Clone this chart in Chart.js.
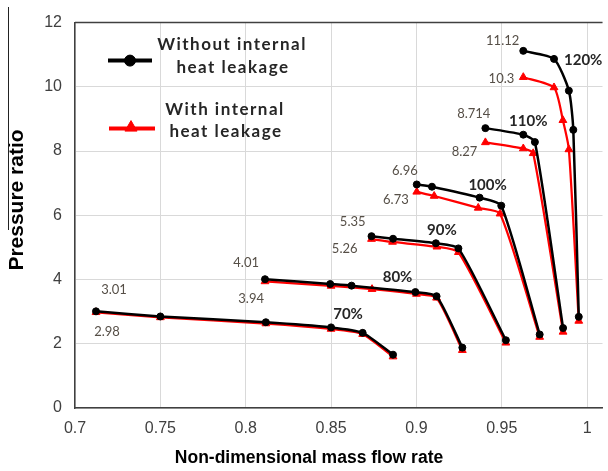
<!DOCTYPE html>
<html>
<head>
<meta charset="utf-8">
<script src="https://cdn.jsdelivr.net/npm/chart.js@4.4.1/dist/chart.umd.min.js"></script>
<style>
  html, body { margin: 0; padding: 0; background: #fff; }
  canvas { display: block; }
</style>
</head>
<body>
<canvas id="chart" width="608" height="471"></canvas>
<script>
// speed lines, one curve each
const speeds = ['70%', '80%', '90%', '100%', '110%', '120%'];

// without internal heat leakage (black circles)
const flowWithout = [
    [0.7123, 0.75, 0.8118, 0.85, 0.8685, 0.8863],
    [0.8113, 0.8495, 0.862, 0.8994, 0.9118, 0.9269],
    [0.8737, 0.8863, 0.9114, 0.9246, 0.9524],
    [0.9002, 0.9091, 0.937, 0.9497, 0.9722],
    [0.9404, 0.9626, 0.9694, 0.9859],
    [0.9626, 0.9806, 0.9893, 0.9919, 0.9951]
];
const prWithout = [
    [3.01, 2.85, 2.67, 2.51, 2.34, 1.66],
    [4.01, 3.86, 3.81, 3.61, 3.48, 1.88],
    [5.35, 5.27, 5.13, 4.97, 2.11],
    [6.96, 6.89, 6.55, 6.30, 2.29],
    [8.714, 8.51, 8.28, 2.49],
    [11.12, 10.87, 9.88, 8.66, 2.84]
];

// with internal heat leakage (red triangles)
const flowWith = [
    [0.7123, 0.75, 0.8118, 0.85, 0.8685, 0.8863],
    [0.8113, 0.85, 0.874, 0.9, 0.9118, 0.9269],
    [0.8737, 0.886, 0.912, 0.9246, 0.9524],
    [0.9002, 0.9104, 0.9362, 0.949, 0.9722],
    [0.9404, 0.9626, 0.9684, 0.9859],
    [0.9626, 0.9806, 0.9858, 0.9893, 0.9951]
];
const prWith = [
    [2.98, 2.82, 2.63, 2.46, 2.30, 1.60],
    [3.94, 3.80, 3.70, 3.55, 3.43, 1.80],
    [5.26, 5.17, 5.02, 4.85, 2.03],
    [6.73, 6.60, 6.23, 6.05, 2.21],
    [8.27, 8.08, 7.93, 2.37],
    [10.3, 9.98, 8.96, 8.05, 2.71]
];

const xTicks = [0.7, 0.75, 0.8, 0.85, 0.9, 0.95, 1];
const yTicks = [0, 2, 4, 6, 8, 10, 12];

// value labels at the first point of each curve: [series, curve, point, text, dx, dy, align]
const valueNotes = [
    ['without', 5, 0, '11.12', -4, -10, 'right'],
    ['with', 5, 0, '10.3', -9, 2, 'right'],
    ['without', 4, 0, '8.714', 5, -14, 'right'],
    ['with', 4, 0, '8.27', -8, 9, 'right'],
    ['without', 3, 0, '6.96', 1, -14, 'right'],
    ['with', 3, 0, '6.73', -8, 8, 'right'],
    ['without', 2, 0, '5.35', -6, -14, 'right'],
    ['with', 2, 0, '5.26', -14, 10, 'right'],
    ['without', 1, 0, '4.01', -6, -16, 'right'],
    ['with', 1, 0, '3.94', -1, 17, 'right'],
    ['without', 0, 0, '3.01', 18, -22, 'center'],
    ['with', 0, 0, '2.98', 11, 20, 'center']
];
// speed labels: [curve, point, dx, dy, align]
const speedNotes = [
    [5, 1, 10, 1, 'left'],
    [4, 1, 5, -14, 'center'],
    [3, 2, 8, -12, 'center'],
    [2, 2, 6, -13, 'center'],
    [1, 2, 46, -8, 'center'],
    [0, 3, 17, -13, 'center']
];

const BLACK = '#000000';
const RED = '#ff0000';
const series = { without: [flowWithout, prWithout], with: [flowWith, prWith] };

function points(xs, ys) {
    return xs.map((x, i) => ({ x: x, y: ys[i] }));
}

const datasets = [];
speeds.forEach((s, i) => {
    datasets.push({
        label: 'Without ' + s,
        data: points(flowWithout[i], prWithout[i]),
        showLine: true,
        borderColor: BLACK,
        backgroundColor: BLACK,
        borderWidth: 2.5,
        pointStyle: 'circle',
        pointRadius: 3.5,
        pointBorderWidth: 1,
        tension: 0.2,
        order: 0
    });
    datasets.push({
        label: 'With ' + s,
        data: points(flowWith[i], prWith[i]),
        showLine: true,
        borderColor: RED,
        backgroundColor: RED,
        borderWidth: 2.25,
        pointStyle: 'triangle',
        pointRadius: 4.5,
        pointBorderWidth: 1,
        tension: 0.2,
        order: 1
    });
});

const annotations = {
    id: 'annotations',
    afterDatasetsDraw(chart) {
        const ctx = chart.ctx;
        const xs = chart.scales.x, ys = chart.scales.y;
        const area = chart.chartArea;
        ctx.save();

        // top frame line
        ctx.strokeStyle = '#404040';
        ctx.lineWidth = 1.5;
        ctx.beginPath();
        ctx.moveTo(area.left, area.top);
        ctx.lineTo(area.right, area.top);
        ctx.stroke();

        // value labels
        ctx.textBaseline = 'middle';
        ctx.font = '13px Lato';
        ctx.fillStyle = '#564f47';
        valueNotes.forEach(([key, c, p, text, dx, dy, align]) => {
            const [fx, fy] = series[key];
            ctx.textAlign = align;
            ctx.fillText(text, xs.getPixelForValue(fx[c][p]) + dx, ys.getPixelForValue(fy[c][p]) + dy);
        });

        // speed labels
        ctx.font = 'bold 15px Lato';
        ctx.fillStyle = '#262626';
        speedNotes.forEach(([c, p, dx, dy, align]) => {
            ctx.textAlign = align;
            ctx.fillText(speeds[c], xs.getPixelForValue(flowWithout[c][p]) + dx, ys.getPixelForValue(prWithout[c][p]) + dy);
        });

        // legend inside the plot
        const lx = area.left;
        const ly = area.top;
        ctx.lineWidth = 4;
        ctx.strokeStyle = BLACK;
        ctx.beginPath();
        ctx.moveTo(lx + 33, ly + 38);
        ctx.lineTo(lx + 77, ly + 38);
        ctx.stroke();
        ctx.lineWidth = 1;
        ctx.fillStyle = BLACK;
        Chart.helpers.drawPoint(ctx, { pointStyle: 'circle', radius: 5.5, borderWidth: 1 }, lx + 55, ly + 38);

        ctx.lineWidth = 4;
        ctx.strokeStyle = RED;
        ctx.fillStyle = RED;
        ctx.beginPath();
        ctx.moveTo(lx + 34, ly + 106);
        ctx.lineTo(lx + 80, ly + 106);
        ctx.stroke();
        ctx.lineWidth = 1;
        Chart.helpers.drawPoint(ctx, { pointStyle: 'triangle', radius: 7, borderWidth: 1 }, lx + 56, ly + 105);

        ctx.font = 'bold 17px Lato';
        ctx.letterSpacing = '1.5px';
        ctx.fillStyle = '#262626';
        ctx.textAlign = 'center';
        ctx.fillText('Without internal', 232, 45);
        ctx.fillText('heat leakage', 233, 68);
        ctx.fillText('With internal', 225, 110);
        ctx.fillText('heat leakage', 226, 132);
        ctx.letterSpacing = '0px';

        // axis titles
        ctx.fillStyle = '#000000';
        ctx.font = 'bold 17.5px Arial';
        ctx.fillText('Non-dimensional mass flow rate', 309, 458);
        ctx.save();
        ctx.translate(17, 200);
        ctx.rotate(-Math.PI / 2);
        ctx.font = 'bold 21px Arial';
        ctx.fillText('Pressure ratio', 0, 0);
        ctx.restore();

        // stray rule left of the y title
        ctx.strokeStyle = '#222222';
        ctx.lineWidth = 1;
        ctx.beginPath();
        ctx.moveTo(8.5, 7);
        ctx.lineTo(8.5, 230);
        ctx.stroke();

        ctx.restore();
    }
};

new Chart(document.getElementById('chart').getContext('2d'), {
    type: 'scatter',
    data: { datasets: datasets },
    options: {
        responsive: false,
        animation: false,
        layout: { padding: { top: 15, right: 0, bottom: 0, left: 0 } },
        plugins: {
            legend: { display: false },
            tooltip: { enabled: false }
        },
        scales: {
            x: {
                type: 'linear',
                min: 0.7,
                max: 1.009,
                afterBuildTicks: (scale) => { scale.ticks = xTicks.map(v => ({ value: v })); },
                afterFit: (scale) => { scale.height = 63; },
                grid: { color: '#d9d9d9', drawTicks: false },
                border: { color: '#404040', width: 1.5 },
                ticks: {
                    autoSkip: false,
                    maxRotation: 0,
                    padding: 11,
                    color: '#404040',
                    font: { family: 'Arial', size: 16 },
                    callback: (v) => String(v)
                }
            },
            y: {
                type: 'linear',
                min: 0,
                max: 12,
                afterBuildTicks: (scale) => { scale.ticks = yTicks.map(v => ({ value: v })); },
                afterFit: (scale) => { scale.width = 75; },
                grid: { color: '#d9d9d9', drawTicks: false },
                border: { color: '#404040', width: 1.5 },
                ticks: {
                    padding: 13,
                    color: '#404040',
                    font: { family: 'Arial', size: 16 }
                }
            }
        }
    },
    plugins: [annotations]
});
</script>
</body>
</html>
